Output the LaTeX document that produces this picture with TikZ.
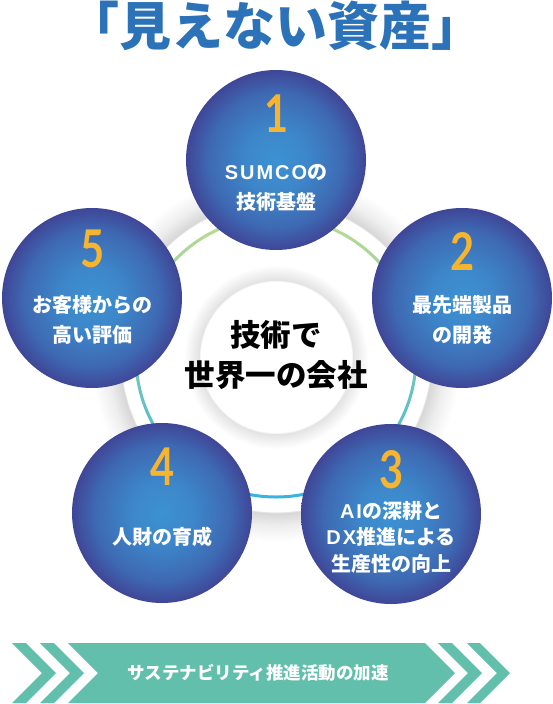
\documentclass[tikz,border=0pt]{standalone}
\usepackage{fontspec}
\newfontfamily\jp{Noto Sans CJK JP}
\newfontfamily\latf{Liberation Sans}[LetterSpace=10]
\newfontfamily\numf{Lato}[FakeStretch=0.8]
\definecolor{titleblue}{HTML}{2B72B9}
\definecolor{numyellow}{HTML}{F7B52F}
\definecolor{bandgreen}{HTML}{62BFAB}
\definecolor{cin}{HTML}{3C92D1}
\definecolor{cmida}{HTML}{3D86C9}
\definecolor{cmidb}{HTML}{3E68B2}
\definecolor{cout}{HTML}{3F4697}
\definecolor{glowa}{HTML}{D6D6D6}
\definecolor{glowb}{HTML}{EEEEEE}
\definecolor{glowc}{HTML}{E2E2E2}
\definecolor{ringtop}{HTML}{BCDC8C}
\definecolor{ringmid}{HTML}{88CEA2}
\definecolor{ringbot}{HTML}{36B3E5}
\pgfdeclareradialshading{ballshade}{\pgfpoint{0bp}{0bp}}{color(0bp)=(cin); color(9bp)=(cmida); color(19bp)=(cmidb); color(25bp)=(cout); color(50bp)=(cout)}
\pgfdeclareradialshading{bigglow}{\pgfpoint{0bp}{0bp}}{color(0bp)=(white); color(20.9bp)=(white); color(21.05bp)=(glowa); color(22.8bp)=(glowb); color(25bp)=(white); color(50bp)=(white)}
\pgfdeclareradialshading{smallglow}{\pgfpoint{0bp}{0bp}}{color(0bp)=(white); color(20.6bp)=(white); color(20.8bp)=(glowc); color(25bp)=(white); color(50bp)=(white)}
\newcommand\lat[1]{{\latf\bfseries #1}}
\tikzset{
  ball/.style={circle, minimum size=180pt, inner sep=0pt, shade, shading=ballshade},
  num/.style={font=\numf\bfseries\fontsize{52}{52}\selectfont, text=numyellow, inner sep=0pt},
  lbl/.style={font=\jp\bfseries\fontsize{20}{29.5}\selectfont, text=white, align=center, inner sep=0pt},
  chev/.style={fill=bandgreen, draw=none},
}
\begin{document}
\begin{tikzpicture}[x=1pt,y=-1pt]
\useasboundingbox[fill=white] (0,0) rectangle (553,704);
\coordinate (o) at (276,357);
% big white disc with soft shadow
\shade[shading=bigglow] (o) circle[radius=185pt];
% gradient ring
\shade[top color=ringtop, middle color=ringmid, bottom color=ringbot, even odd rule]
  (o) circle[radius=141.5pt] (o) circle[radius=138.5pt];
% centre disc
\shade[shading=smallglow] (o) circle[radius=92pt];
\node[font=\jp\bfseries\fontsize{30.5}{40}\selectfont, align=center, inner sep=0pt] (ctr) at (276,355) {技術で\\世界一の会社};
% five circles
\node[ball] (c1) at (276,160) {};
\node[ball] (c2) at (462,298) {};
\node[ball] (c3) at (391,514) {};
\node[ball] (c4) at (162,513) {};
\node[ball] (c5) at (92,298) {};
% numbers
\node[num] (n1) at (277,114) {1};
\node[num] (n2) at (463,251) {2};
\node[num] (n3) at (392,470) {3};
\node[num] (n4) at (163,467) {4};
\node[num] (n5) at (93,249) {5};
% labels
\node[lbl] (t1) at (276,188) {\lat{SUMCO}の\\技術基盤};
\node[lbl] (t2) at (462,320) {最先端製品\\の開発};
\node[lbl, font=\jp\bfseries\fontsize{20}{26.5}\selectfont] (t3) at (391,537) {\lat{AI}の深耕と\\\lat{DX}推進による\\生産性の向上};
\node[lbl] (t4) at (162,537) {人財の育成};
\node[lbl] (t5) at (92,320) {お客様からの\\高い評価};
% title
\node[font=\jp\bfseries\fontsize{52}{52}\selectfont, text=titleblue, inner sep=0pt] (title) at (275,26) {「見えない資産」};
% bottom banner
\fill[chev] (12,643) -- (26,643) -- (56,673) -- (26,703) -- (12,703) -- (42,673) -- cycle;
\fill[chev] (40,643) -- (54,643) -- (84,673) -- (54,703) -- (40,703) -- (70,673) -- cycle;
\fill[chev] (68,643) -- (425,643) -- (455,673) -- (425,703) -- (68,703) -- (98,673) -- cycle;
\fill[chev] (438,643) -- (452,643) -- (482,673) -- (452,703) -- (438,703) -- (468,673) -- cycle;
\fill[chev] (467,643) -- (480,643) -- (510,673) -- (480,703) -- (467,703) -- (497,673) -- cycle;
\node[font=\jp\bfseries\fontsize{17.5}{17.5}\selectfont, text=white, inner sep=0pt] (band) at (258,673) {サステナビリティ推進活動の加速};
\end{tikzpicture}
\end{document}
